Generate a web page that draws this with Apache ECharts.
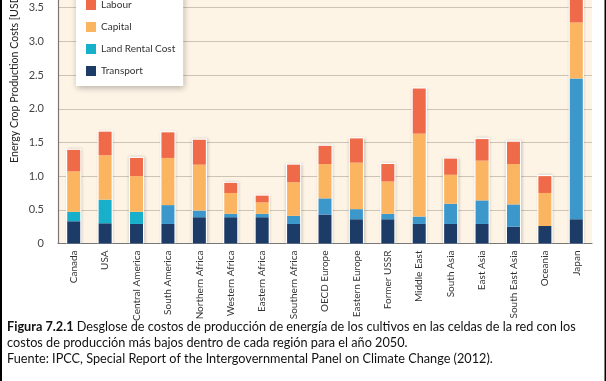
<!DOCTYPE html>
<html>
<head>
<meta charset="utf-8">
<script src="https://cdn.jsdelivr.net/npm/echarts@6/dist/echarts.min.js"></script>
<style>
html,body{margin:0;padding:0;background:#fff;}
#chart{width:606px;height:381px;}
</style>
</head>
<body>
<div id="chart"></div>
<script>
const categories = ['Canada','USA','Central America','South America','Northern Africa','Western Africa','Eastern Africa','Southern Africa','OECD Europe','Eastern Europe','Former USSR','Middle East','South Asia','East Asia','South East Asia','Oceania','Japan'];
const transport = [0.33,0.30,0.29,0.29,0.39,0.39,0.39,0.29,0.43,0.36,0.36,0.29,0.29,0.29,0.25,0.26,0.36];
const landRental = [0.14,0.35,0.18,0.28,0.10,0.05,0.05,0.12,0.24,0.15,0.08,0.11,0.30,0.35,0.33,0.00,2.09];
const capital = [0.60,0.66,0.53,0.70,0.68,0.31,0.17,0.50,0.51,0.69,0.48,1.23,0.43,0.59,0.60,0.49,0.83];
const labour = [0.32,0.35,0.27,0.38,0.37,0.15,0.10,0.26,0.27,0.36,0.26,0.67,0.24,0.32,0.33,0.25,0.55];
const yTicks = [0,0.5,1.0,1.5,2.0,2.5,3.0,3.5,4.0];
const cyanRegions = ['Canada','USA','Central America'];

const FONT = 'Lato';
const C_LABOUR = '#ee6a48', C_CAPITAL = '#fbb45f', C_LAND = '#3c97cb', C_LAND2 = '#17afca', C_TRANS = '#1c3b66';

const totals = categories.map((c,i)=> +(transport[i]+landRental[i]+capital[i]+labour[i]).toFixed(2));

const chart = echarts.init(document.getElementById('chart'), null, {renderer:'canvas'});
const barW = 13;
chart.setOption({
  animation:false,
  textStyle:{fontFamily:FONT},
  grid:{left:58,right:14,top:-26,bottom:137.5,show:true,backgroundColor:'#fdf4e6',borderWidth:0,
        containLabel:false,outerBoundsMode:'none'},
  legend:{
    orient:'vertical', left:76, top:-10,
    padding:[10,8,10,10], itemWidth:10, itemHeight:10, itemGap:12,
    backgroundColor:'#fff', shadowBlur:6, shadowColor:'rgba(0,0,0,0.28)', shadowOffsetX:1, shadowOffsetY:2,
    icon:'rect',
    textStyle:{fontFamily:FONT,fontSize:10,color:'#333'},
    data:[
      {name:'Labour'},{name:'Capital'},
      {name:'Land Rental Cost',itemStyle:{color:C_LAND2}},
      {name:'Transport'}
    ]
  },
  xAxis:{
    type:'category', data:categories,
    axisLine:{show:true,lineStyle:{color:'#777',width:1.2}},
    axisTick:{show:false},
    axisLabel:{rotate:90,interval:0,margin:7,fontSize:10,color:'#333',fontFamily:FONT},
    splitLine:{show:false}
  },
  yAxis:{
    type:'value', min:yTicks[0], max:yTicks[yTicks.length-1], interval:0.5,
    axisLine:{show:true,lineStyle:{color:'#777',width:1.2}},
    axisTick:{show:false},
    axisLabel:{margin:14,fontSize:11,color:'#444',fontFamily:FONT,
      formatter:v=> v===0 ? '0' : v.toFixed(1)},
    splitLine:{show:true,lineStyle:{color:'#cdc4b6',width:1.2}}
  },
  series:[
    {
      type:'custom', name:'outline', z:1, clip:true, silent:true,
      data: totals.map((t,i)=>[i,t]),
      renderItem:(params,api)=>{
        const top = api.coord([api.value(0), api.value(1)]);
        const base = api.coord([api.value(0), 0]);
        return {type:'rect', shape:{x:top[0]-barW/2-1.2, y:top[1]-1.2, width:barW+2.4, height:base[1]-top[1]+1.2},
          style:{fill:'#fff', shadowBlur:3, shadowColor:'rgba(0,0,0,0.25)', shadowOffsetX:0.5, shadowOffsetY:0.5}};
      }
    },
    {name:'Transport',type:'bar',stack:'c',barWidth:barW,z:3,itemStyle:{color:C_TRANS},data:transport},
    {name:'Land Rental Cost',type:'bar',stack:'c',barWidth:barW,z:3,itemStyle:{color:C_LAND},
      data:landRental.map((v,i)=> cyanRegions.includes(categories[i]) ? {value:v,itemStyle:{color:C_LAND2}} : v)},
    {name:'Capital',type:'bar',stack:'c',barWidth:barW,z:3,itemStyle:{color:C_CAPITAL},data:capital},
    {name:'Labour',type:'bar',stack:'c',barWidth:barW,z:3,itemStyle:{color:C_LABOUR},data:labour}
  ],
  graphic:[
    {type:'rect',left:0,top:0,shape:{width:2,height:381},style:{fill:'#000'},z:100},
    {type:'rect',right:0,top:0,shape:{width:1.5,height:381},style:{fill:'#000'},z:100},
    {type:'text',x:15,y:163,rotation:Math.PI/2,z:50,
      style:{text:'Energy Crop Production Costs [USD{s|2005}/GJ]',align:'left',verticalAlign:'middle',
        fontFamily:FONT,fontSize:10.6,fill:'#222',
        rich:{s:{fontSize:6,fontFamily:FONT,fill:'#222',verticalAlign:'bottom',padding:[6,0,0,0]}}}},
    {type:'text',x:7,y:327,z:50,
      style:{text:'{b|Figura 7.2.1} Desglose de costos de producción de energía de los cultivos en las celdas de la red con los',
        verticalAlign:'middle',fontFamily:FONT,fontSize:12.7,fill:'#111',
        rich:{b:{fontWeight:'bold',fontFamily:FONT,fontSize:12.7,fill:'#111'}}}},
    {type:'text',x:7,y:343,z:50,
      style:{text:'costos de producción más bajos dentro de cada región para el año 2050.',
        verticalAlign:'middle',fontFamily:FONT,fontSize:12.7,fill:'#111'}},
    {type:'text',x:7,y:359,z:50,
      style:{text:'Fuente: IPCC, Special Report of the Intergovernmental Panel on Climate Change (2012).',
        verticalAlign:'middle',fontFamily:FONT,fontSize:12.7,fill:'#111'}}
  ]
});
</script>
</body>
</html>
